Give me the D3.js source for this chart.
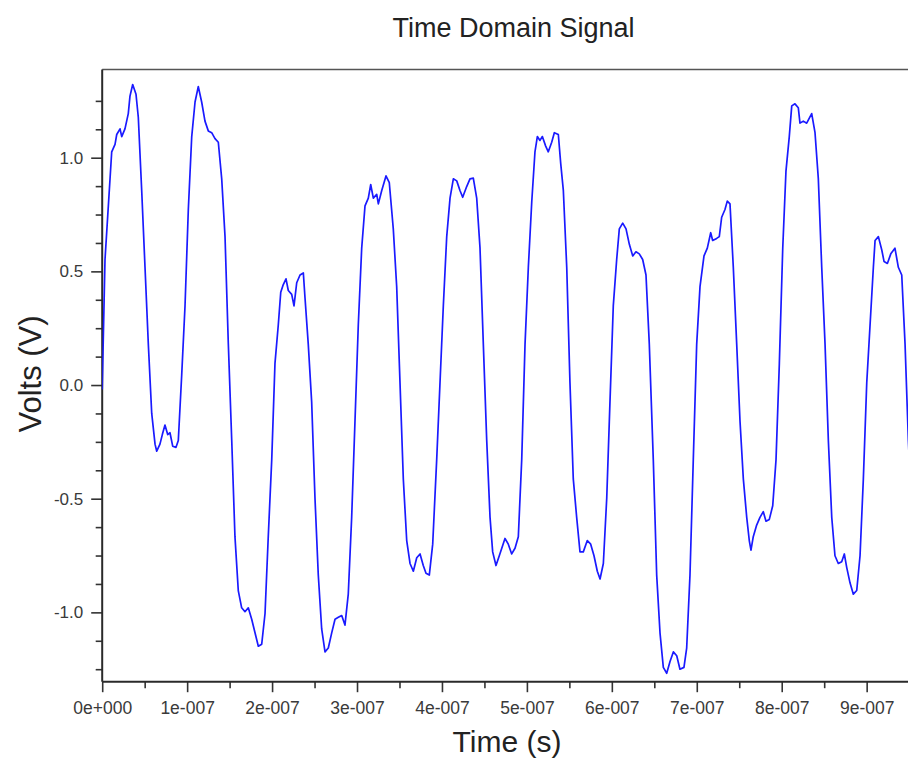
<!DOCTYPE html>
<html>
<head>
<meta charset="utf-8">
<script src="https://cdn.jsdelivr.net/npm/d3@7/dist/d3.min.js"></script>
<style>
  html, body { margin: 0; padding: 0; background: #fff; overflow: hidden; }
  svg { display: block; font-family: "Liberation Sans", Arial, sans-serif; }
</style>
</head>
<body>
<svg id="chart" width="908" height="764"></svg>
<script>
// ---- data (time in ns, voltage in V) ----
const timeNs = [
  0, 3.3, 11.2, 15.1, 17.1, 21.0, 23.0, 26.8, 30.7, 32.7, 35.9, 39.8, 42.5, 46.5, 50.4, 54.3, 58.3, 62.2, 64.2, 68.0,
  70.8, 73.9, 77.1, 79.8, 83.0, 86.9, 89.6, 93.6, 97.5, 101.4, 105.4, 109.3, 113.1, 117.1, 121.0, 124.9, 128.9, 132.8, 136.7, 140.7,
  144.6, 148.5, 152.5, 156.3, 160.2, 164.2, 168.1, 172.0, 176.0, 179.9, 183.8, 187.8, 191.7, 195.5, 199.6, 203.4, 207.3, 210.2, 213.2, 216.4,
  219.1, 223.1, 225.8, 229.0, 232.9,
  236.8, 238.8, 242.6, 246.6, 250.5, 254.4, 258.4, 262.3, 266.2, 270.2, 274.1, 278.0, 282.0, 285.8, 289.7, 293.7, 297.6, 301.5, 305.5, 309.4,
  313.3, 316.1, 319.2, 323.2, 325.1, 329.1, 334.1, 338.0, 342.7, 346.7, 350.6, 354.5, 358.5, 362.4, 366.3, 370.3, 374.2, 378.0, 381.2, 385.1,
  389.1, 393.8, 397.7, 401.6, 405.6, 409.5, 413.4, 417.4, 421.2, 424.4, 429.1, 433.0, 436.9, 440.9, 444.8, 448.7, 452.7, 456.6, 459.7, 463.6, 467.5,
  474.2, 478.1, 482.1, 486.0, 489.9, 493.9, 497.8, 501.7, 505.7, 509.5, 512.3, 515.4, 518.2, 522.1, 525.2, 529.2, 532.3, 537.0, 539.8, 542.9,
  546.9, 550.7, 554.6, 558.6, 562.5, 566.4, 571.1, 575.1, 579.0, 582.9, 586.1, 590.0, 594.0, 597.8, 601.7, 605.7, 608.8, 612.8, 616.7, 620.6,
  624.6, 628.4, 632.3, 636.3, 640.2, 644.1, 648.8, 652.8, 656.7, 660.6, 664.6, 668.5, 672.4, 676.4, 680.2, 684.9, 688.1, 692.0, 695.9, 699.9,
  703.8, 708.5,
  712.4, 716.4, 718.7, 723.4, 726.5, 729.3, 733.2, 735.9, 739.1, 743.0, 747.0, 750.9, 754.8, 758.8, 761.8, 763.8, 766.5, 770.5, 774.4, 778.3,
  781.5, 785.4, 789.4, 793.3, 797.2, 801.2, 805.0, 808.9, 811.8, 815.6, 819.5, 821.5, 825.4, 829.4, 835.3, 839.2, 843.1, 847.1, 851.0, 854.9,
  858.9, 862.7, 866.6, 870.6, 873.7, 876.5, 880.4, 884.3, 888.3, 892.2, 896.1, 900.1, 904.0, 907.9, 909.9, 913.8, 917.8, 920.5, 924.4, 928.4,
  933.3, 937.3, 941.3, 945.2, 949.1, 953.0, 957.0
];
const volts = [
  -0.02, 0.552, 1.026, 1.059, 1.102, 1.127, 1.093, 1.127, 1.194, 1.271, 1.322, 1.279, 1.178, 0.856, 0.518, 0.180, -0.125, -0.260, -0.291, -0.260,
  -0.218, -0.176, -0.218, -0.210, -0.269, -0.274, -0.244, 0.044, 0.348, 0.772, 1.093, 1.245, 1.313, 1.245, 1.161, 1.118, 1.110, 1.084, 1.068, 0.907,
  0.653, 0.180, -0.244, -0.667, -0.904, -0.980, -0.997, -0.980, -1.030, -1.090, -1.149, -1.140, -1.005, -0.667, -0.328, 0.095, 0.264, 0.408, 0.442, 0.467,
  0.416, 0.399, 0.348, 0.450, 0.484,
  0.493, 0.382, 0.180, -0.074, -0.497, -0.836, -1.073, -1.174, -1.157, -1.090, -1.030, -1.022, -1.014, -1.056, -0.920, -0.582, -0.159, 0.264, 0.602, 0.788,
  0.822, 0.882, 0.822, 0.839, 0.797, 0.856, 0.920, 0.890, 0.687, 0.433, 0.010, -0.413, -0.684, -0.785, -0.819, -0.760, -0.743, -0.794, -0.828, -0.836,
  -0.700, -0.328, 0.010, 0.348, 0.653, 0.822, 0.907, 0.898, 0.856, 0.826, 0.873, 0.907, 0.910, 0.822, 0.602, 0.180, -0.244, -0.582, -0.734, -0.794, -0.751,
  -0.675, -0.700, -0.743, -0.718, -0.667, -0.328, 0.180, 0.518, 0.805, 1.026, 1.093, 1.076, 1.093, 1.051, 1.026, 1.068, 1.110, 1.102, 0.975, 0.856,
  0.518, 0.010, -0.413, -0.582, -0.734, -0.734, -0.684, -0.700, -0.751, -0.819, -0.853, -0.785, -0.497, -0.074, 0.348, 0.552, 0.687, 0.712, 0.687, 0.619,
  0.568, 0.586, 0.577, 0.552, 0.484, 0.180, -0.328, -0.836, -1.090, -1.242, -1.268, -1.216, -1.174, -1.191, -1.250, -1.242, -1.157, -0.836, -0.328, 0.180,
  0.433, 0.568,
  0.602, 0.670, 0.636, 0.645, 0.653, 0.738, 0.772, 0.809, 0.797, 0.518, 0.180, -0.159, -0.413, -0.582, -0.684, -0.726, -0.667, -0.616, -0.582, -0.557,
  -0.599, -0.591, -0.531, -0.328, 0.095, 0.602, 0.941, 1.093, 1.228, 1.237, 1.220, 1.152, 1.161, 1.152, 1.194, 1.110, 0.907, 0.518, 0.180, -0.244,
  -0.582, -0.751, -0.785, -0.777, -0.743, -0.802, -0.870, -0.920, -0.904, -0.751, -0.413, 0.010, 0.264, 0.518, 0.636, 0.653, 0.594, 0.543, 0.535, 0.577,
  0.602, 0.518, 0.484, 0.180, -0.244, -0.55, -0.80
];
const xTickValues = [0, 1e-7, 2e-7, 3e-7, 4e-7, 5e-7, 6e-7, 7e-7, 8e-7, 9e-7];
const xTickLabels = ["0e+000", "1e-007", "2e-007", "3e-007", "4e-007", "5e-007", "6e-007", "7e-007", "8e-007", "9e-007"];
const yTickValues = [-1.0, -0.5, 0.0, 0.5, 1.0];
const yTickLabels = ["-1.0", "-0.5", "0.0", "0.5", "1.0"];
const xDomain = [0, 1e-6];
const yDomain = [-1.305, 1.388];

// ---- layout ----
const plotL = 102.2, plotR = 951.6, plotT = 69.5, plotB = 681.7;
const svg = d3.select("#chart");

const x = d3.scaleLinear().domain(xDomain).range([plotL, plotR]);
const y = d3.scaleLinear().domain(yDomain).range([plotB, plotT]);

const points = timeNs.map((t, i) => ({ t: t * 1e-9, v: volts[i] }));

svg.append("defs").append("clipPath").attr("id", "plotClip")
  .append("rect").attr("x", plotL).attr("y", plotT).attr("width", plotR - plotL).attr("height", plotB - plotT);

// top / right frame
svg.append("line").attr("x1", plotL).attr("x2", plotR).attr("y1", plotT).attr("y2", plotT)
  .attr("stroke", "#555").attr("stroke-width", 1.6);
svg.append("line").attr("x1", plotR).attr("x2", plotR).attr("y1", plotT).attr("y2", plotB)
  .attr("stroke", "#555").attr("stroke-width", 1.6);

// minor ticks
const xMinor = d3.range(0.5e-7, 1e-6, 1e-7);
const yMinor = d3.range(-1.25, 1.3, 0.125).filter(v => Math.abs(v * 2 - Math.round(v * 2)) > 1e-6);

const tickFont = '"Liberation Sans", Arial, sans-serif';
const gx = svg.append("g").attr("transform", `translate(0,${plotB})`);
gx.call(d3.axisBottom(x).tickValues(xMinor).tickSize(6.5).tickFormat(""))
  .call(g => g.select(".domain").remove());
gx.append("g").call(d3.axisBottom(x).tickValues(xTickValues).tickSize(10.5).tickSizeOuter(0)
  .tickPadding(9).tickFormat((d, i) => xTickLabels[i]))
  .call(g => g.select(".domain").remove())
  .call(g => g.selectAll("text").attr("font-size", 17.5).attr("fill", "#3a3a3a")
        .attr("font-family", tickFont));
gx.selectAll(".tick line").attr("stroke", "#333").attr("stroke-width", 1.6);

const gy = svg.append("g").attr("transform", `translate(${plotL},0)`);
gy.call(d3.axisLeft(y).tickValues(yMinor).tickSize(6.5).tickFormat(""))
  .call(g => g.select(".domain").remove());
gy.append("g").call(d3.axisLeft(y).tickValues(yTickValues).tickSize(11).tickSizeOuter(0)
  .tickPadding(8).tickFormat((d, i) => yTickLabels[i]))
  .call(g => g.select(".domain").remove())
  .call(g => g.selectAll("text").attr("font-size", 17).attr("fill", "#3a3a3a")
        .attr("font-family", tickFont));
gy.selectAll(".tick line").attr("stroke", "#333").attr("stroke-width", 1.6);

// axis lines
svg.append("line").attr("x1", plotL).attr("x2", plotR).attr("y1", plotB).attr("y2", plotB)
  .attr("stroke", "#2a2a2a").attr("stroke-width", 2);
svg.append("line").attr("x1", plotL).attr("x2", plotL).attr("y1", plotT).attr("y2", plotB)
  .attr("stroke", "#2a2a2a").attr("stroke-width", 2);

// signal
const line = d3.line().x(d => x(d.t)).y(d => y(d.v)).curve(d3.curveLinear);
svg.append("path").datum(points)
  .attr("clip-path", "url(#plotClip)")
  .attr("fill", "none").attr("stroke", "#1a1aff").attr("stroke-width", 1.7)
  .attr("stroke-linejoin", "round")
  .attr("d", line);

// titles
svg.append("text").attr("x", 513.5).attr("y", 37).attr("text-anchor", "middle")
  .attr("font-size", 27).attr("fill", "#222").text("Time Domain Signal");
svg.append("text").attr("x", 507).attr("y", 752).attr("text-anchor", "middle")
  .attr("font-size", 30).attr("fill", "#222").text("Time (s)");
svg.append("text").attr("transform", "translate(41,374) rotate(-90)").attr("text-anchor", "middle")
  .attr("font-size", 31).attr("fill", "#222").text("Volts (V)");
</script>
</body>
</html>
